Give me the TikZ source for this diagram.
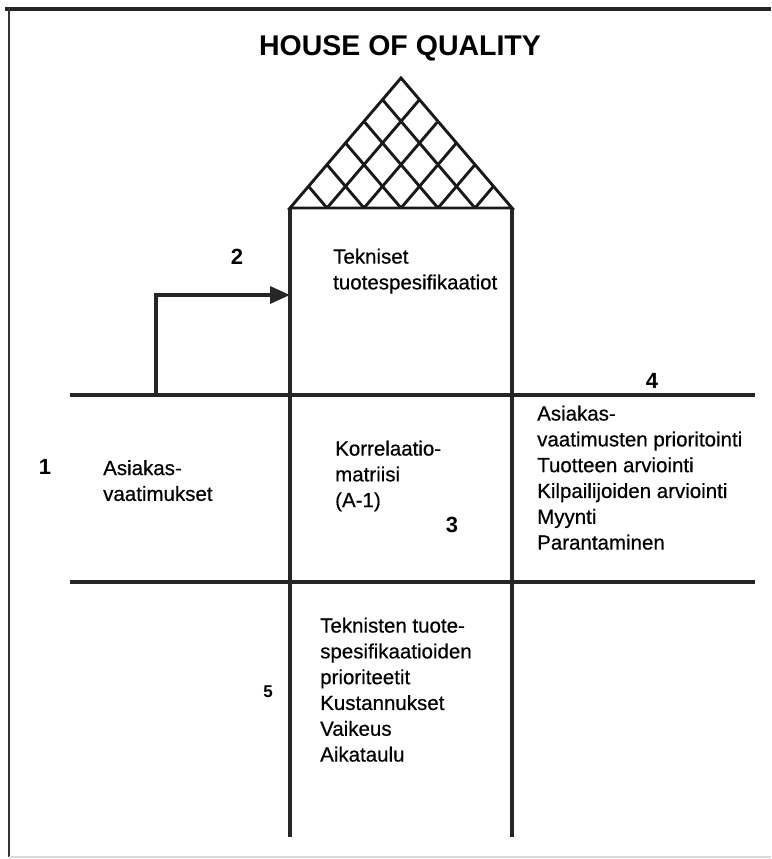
\documentclass[tikz,border=0pt]{standalone}
\usepackage{fontspec}
\setmainfont{Liberation Sans}
\usetikzlibrary{arrows.meta,calc}
\begin{document}
\begin{tikzpicture}[x=1pt,y=-1pt,
  rule/.style={line width=3.3pt,draw=black!85},
  roofline/.style={line width=2.9pt,draw=black!90},
  blocktext/.style={anchor=north west,inner sep=0pt,align=left,
    font=\fontsize{20.5}{25.8}\selectfont\addfontfeature{FakeBold=0.5}},
  num/.style={inner sep=0pt,font=\fontsize{22}{22}\selectfont\bfseries},
]
\useasboundingbox (0,0) rectangle (771,859);

% outer frame
\draw[line width=3.6pt,black!85] (5,9) -- (771,9);
\draw[line width=2.8pt,black!80] (9,8) -- (9,857);
\draw[line width=1.2pt,black!15] (9,857) -- (771,857);

% frame of the house
\coordinate (L) at (290,208);
\coordinate (R) at (512,208);
\coordinate (T) at (401,78);
\coordinate (Lb) at (290,837);
\coordinate (Rb) at (512,837);
\coordinate (h1w) at (70,395);
\coordinate (h1e) at (755,395);
\coordinate (h2w) at (70,582);
\coordinate (h2e) at (755,582);

\draw[rule] (L) -- (Lb);
\draw[rule] (R) -- (Rb);
\draw[rule] (h1w) -- (h1e);
\draw[rule] (h2w) -- (h2e);

% roof with its lattice
\draw[roofline,line join=miter] (L) -- (T) -- (R) -- cycle;
\foreach \t in {0.1667,0.3333,0.5,0.6667,0.8333}{
  \draw[roofline] ($(L)!\t!(R)$) -- ($(R)!{1-\t}!(T)$);
  \draw[roofline] ($(R)!\t!(L)$) -- ($(L)!{1-\t}!(T)$);
}

% arrow from the customer row to the technical column
\coordinate (a0) at (156,395);
\coordinate (a1) at (156,295);
\coordinate (a2) at (290,295);
\draw[rule,-{Triangle[length=20pt,width=17pt]}] (a0) -- (a1) -- (a2);

% title
\node[font=\fontsize{28.5}{28.5}\selectfont\bfseries] (title) at (400,48) {HOUSE OF QUALITY};

% section numbers
\node[num] (n1) at (45,467) {1};
\node[num] (n2) at (237,257) {2};
\node[num] (n3) at (452,525) {3};
\node[num] (n4) at (652,381) {4};
\node[num,font=\fontsize{17}{17}\selectfont\bfseries] (n5) at (268,692) {5};

% section texts
\node[blocktext] (t1) at (103,460) {Asiakas-\\vaatimukset};
\node[blocktext] (t2) at (333,248.5) {Tekniset\\tuotespesifikaatiot};
\node[blocktext] (t3) at (335,440.5) {Korrelaatio-\\matriisi\\(A-1)};
\node[blocktext] (t4) at (537,405.5) {Asiakas-\\vaatimusten prioritointi\\Tuotteen arviointi\\Kilpailijoiden arviointi\\Myynti\\Parantaminen};
\node[blocktext] (t5) at (320,617.5) {Teknisten tuote-\\spesifikaatioiden\\prioriteetit\\Kustannukset\\Vaikeus\\Aikataulu};
\end{tikzpicture}
\end{document}
